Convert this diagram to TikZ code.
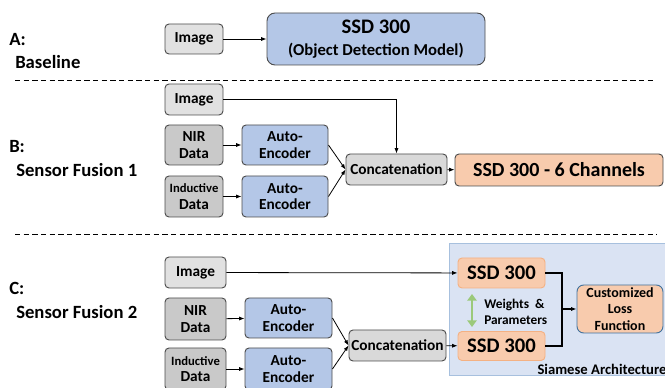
\documentclass[tikz,border=0pt]{standalone}
\usepackage{fontspec}
\setmainfont{Carlito}
\usetikzlibrary{arrows.meta}
\definecolor{grayfill}{HTML}{D9D9D9}
\definecolor{darkgrayfill}{HTML}{C9C9C9}
\definecolor{bluefill}{HTML}{B4C7E7}
\definecolor{peachfill}{HTML}{F8CBAD}
\definecolor{peachline}{HTML}{F4B183}
\definecolor{siamfill}{HTML}{DAE3F3}
\definecolor{siamline}{HTML}{A7C0DE}
\definecolor{lossline}{HTML}{41719C}
\definecolor{weightgreen}{HTML}{9BC97A}
\tikzset{
  sz/.style 2 args={minimum width=#1*0.75pt, minimum height=#2*0.75pt},
  blk/.style={draw=black!70, rounded corners=3pt, inner sep=1pt, align=center,
    font=\bfseries\fontsize{11.5}{12.5}\selectfont, line width=0.7pt},
  imgbox/.style={blk, fill=grayfill!80},
  databox/.style={blk, fill=darkgrayfill},
  aebox/.style={blk, fill=bluefill},
  catbox/.style={blk, fill=grayfill},
  ssdbox/.style={blk, fill=peachfill},
  lbl/.style={anchor=west, inner sep=0pt, font=\bfseries\fontsize{14}{16}\selectfont},
  conn/.style={-{Latex[length=4pt,width=3pt]}, line width=0.6pt},
  sep/.style={dashed, dash pattern=on 4pt off 2.5pt, line width=0.6pt}
}
\begin{document}
\begin{tikzpicture}[x=0.75pt,y=-0.75pt]
  \useasboundingbox (0,0) rectangle (665,388);

  % A: baseline
  \node[lbl] (labA) at (9,40) {A:};
  \node[lbl] (nameA) at (15,62) {Baseline};
  \node[imgbox, sz={58}{30}] (imgA) at (194,39) {Image};
  \node[aebox, sz={218}{52}, font=\bfseries\fontsize{15.5}{16.5}\selectfont, rounded corners=6pt] (ssdA) at (376,39)
    {SSD 300\\{\fontsize{12.5}{14}\selectfont(Object Detection Model)}};
  \draw[conn] (imgA) -- (ssdA);

  \coordinate (sepAl) at (15,80);
  \coordinate (sepAr) at (655,80);
  \draw[sep] (sepAl) -- (sepAr);

  % B: sensor fusion 1
  \node[lbl] (labB) at (9,147) {B:};
  \node[lbl] (nameB) at (16,170) {Sensor Fusion 1};
  \node[imgbox, sz={58}{31}] (imgB) at (194,99.5) {Image};
  \node[databox, sz={58}{40}] (nirB) at (194,145) {NIR\\Data};
  \node[databox, sz={58}{41}] (indB) at (194,196.5) {{\fontsize{9.5}{11}\selectfont Inductive}\\Data};
  \node[aebox, sz={86}{40}] (aeB1) at (285,145) {Auto-\\Encoder};
  \node[aebox, sz={86}{41}] (aeB2) at (285,196.5) {Auto-\\Encoder};
  \node[catbox, sz={101}{31}] (catB) at (396.5,169.5) {Concatenation};
  \node[ssdbox, sz={208}{32}, font=\bfseries\fontsize{15}{16}\selectfont] (ssdB) at (559,170) {SSD 300 - 6 Channels};
  \draw[conn] (nirB) -- (aeB1);
  \draw[conn] (indB) -- (aeB2);
  \draw[conn] (aeB1.east) -- (catB.west);
  \draw[conn] (aeB2.east) -- (catB.west);
  \draw[conn] (imgB) -| (catB);
  \draw[conn] (catB) -- (ssdB);

  \coordinate (sepBl) at (15,234);
  \coordinate (sepBr) at (657,234);
  \draw[sep] (sepBl) -- (sepBr);

  % C: sensor fusion 2
  \node[lbl] (labC) at (9,288) {C:};
  \node[lbl] (nameC) at (16,312) {Sensor Fusion 2};
  \node[draw=siamline, fill=siamfill, line width=0.8pt, sz={218}{132}, anchor=north west] (siam) at (449,243) {};
  \node[anchor=south east, inner sep=1pt, font=\bfseries\fontsize{11}{12}\selectfont] (siamlab) at (siam.south east) {Siamese Architecture};
  \node[imgbox, sz={61}{31}] (imgC) at (195.5,272.5) {Image};
  \node[databox, sz={61}{42}] (nirC) at (195.5,319) {NIR\\Data};
  \node[databox, sz={61}{42}] (indC) at (195.5,369) {{\fontsize{9.5}{11}\selectfont Inductive}\\Data};
  \node[aebox, sz={87}{40}] (aeC1) at (288.5,318) {Auto-\\Encoder};
  \node[aebox, sz={87}{42}] (aeC2) at (288.5,369) {Auto-\\Encoder};
  \node[catbox, sz={97}{31}] (catC) at (397.5,345.5) {Concatenation};
  \node[ssdbox, draw=peachline, sz={87}{30}, font=\bfseries\fontsize{15.5}{16}\selectfont] (ssdC1) at (501.5,273) {SSD 300};
  \node[ssdbox, draw=peachline, sz={87}{29}, font=\bfseries\fontsize{15.5}{16}\selectfont] (ssdC2) at (501.5,346) {SSD 300};
  \node[ssdbox, draw=lossline, sz={86}{48}, rounded corners=5pt, font=\bfseries\fontsize{10.5}{12.5}\selectfont] (loss) at (620,309) {Customized\\Loss\\Function};
  \node[anchor=west, inner sep=0pt, align=left, font=\bfseries\fontsize{10}{12.5}\selectfont] (wts) at (484,312) {Weights~~\&\\Parameters};
  \coordinate (wtop) at (472,294);
  \coordinate (wbot) at (472,327);
  \coordinate (join) at (562,309);
  \draw[{Triangle[length=5pt,width=7pt]}-{Triangle[length=5pt,width=7pt]}, weightgreen, line width=2.2pt] (wtop) -- (wbot);
  \draw[conn] (nirC) -- (aeC1);
  \draw[conn] (indC) -- (aeC2);
  \draw[conn] (aeC1.east) -- (catC.west);
  \draw[conn] (aeC2.east) -- (catC.west);
  \draw[conn] (imgC) -- (ssdC1);
  \draw[conn] (catC) -- (ssdC2);
  \draw[line width=0.8pt] (ssdC1) -| (join);
  \draw[line width=0.8pt] (ssdC2) -| (join);
  \draw[conn, line width=0.8pt] (join) -- (loss);
\end{tikzpicture}
\end{document}
